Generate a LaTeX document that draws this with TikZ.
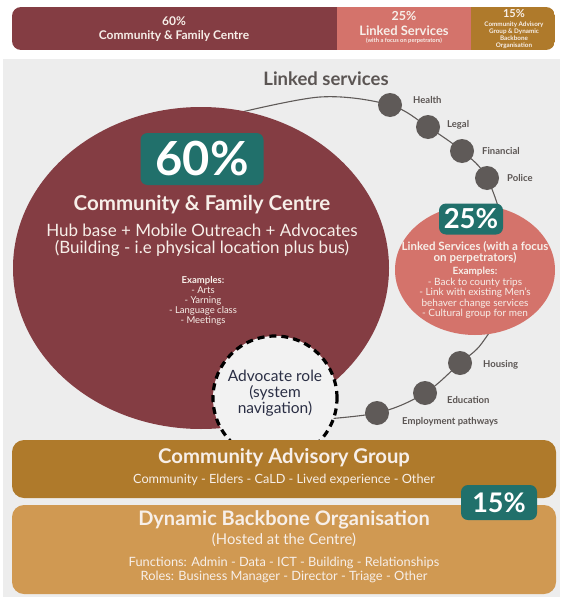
\documentclass[tikz,border=0pt]{standalone}
\usepackage{fontspec}
\setmainfont{Lato}
\usetikzlibrary{shapes.geometric}

\definecolor{cfcred}{HTML}{843D43}
\definecolor{lsred}{HTML}{D4736B}
\definecolor{caggold}{HTML}{AF7A2B}
\definecolor{dbotan}{HTML}{D09952}
\definecolor{pctteal}{HTML}{21706B}
\definecolor{panelgrey}{HTML}{EDEDED}
\definecolor{dotgrey}{HTML}{5F5A58}
\definecolor{titlegrey}{HTML}{5B5553}
\definecolor{navytext}{HTML}{2B2F45}
\definecolor{paletext}{HTML}{F7EFE9}

\newcommand{\fsz}[2]{\fontsize{#1}{#2}\selectfont}

\tikzset{
  pctbox/.style={fill=pctteal, text=white, rounded corners=7pt, inner sep=0pt, font=\bfseries},
  bubble/.style={ellipse, inner sep=0pt},
  dot/.style={circle, fill=dotgrey, minimum size=24pt, inner sep=0pt},
  svclabel/.style={anchor=west, text=titlegrey, inner sep=0pt, font=\bfseries\fsz{9.5}{11}},
  paletxt/.style={text=paletext, align=center, inner sep=0pt},
  band/.style={rounded corners=12pt, inner sep=0pt},
}

\begin{document}
\begin{tikzpicture}[x=1pt, y=-1pt]
  \useasboundingbox (0,0) rectangle (563,597);

  % Top bar
  \begin{scope}
    \clip[rounded corners=9pt] (12,7) rectangle (555,50);
    \fill[cfcred] (12,7) rectangle (337,50);
    \fill[lsred] (337,7) rectangle (471,50);
    \fill[caggold] (471,7) rectangle (555,50);
  \end{scope}
  \node[paletxt, font=\bfseries\fsz{12}{14}] (bar60) at (174,29) {60\%\\Community \& Family Centre};
  \node[paletxt, font=\bfseries\fsz{12.5}{15}] (bar25) at (404,23.5) {25\%\\{\fsz{13}{15}Linked Services}};
  \node[paletxt, font=\bfseries\fsz{5.8}{6}] (bar25sub) at (404,41) {(with a focus on perpetrators)};
  \node[paletxt, font=\bfseries\fsz{11}{12}] (bar15) at (514,14) {15\%};
  \node[paletxt, font=\bfseries\fsz{6.3}{7}] (bar15sub) at (514,35.5) {Community Advisory\\Group \& Dynamic\\Backbone\\Organisation};

  % Grey panel
  \fill[panelgrey] (3,59) rectangle (560,597);
  \node[text=titlegrey, font=\bfseries\fsz{18.5}{20}] (lstitle) at (326,79) {Linked services};

  % Linked services chain
  \coordinate (health) at (390,105);
  \coordinate (legal) at (428,127);
  \coordinate (financial) at (462,151);
  \coordinate (police) at (487,178);
  \coordinate (housing) at (460,363);
  \coordinate (education) at (425,393);
  \coordinate (employ) at (377,413);
  \draw[dotgrey, line width=1.1pt] plot[smooth, tension=0.55] coordinates {(225,116) (320,97) (health) (legal) (financial) (police) (505,235) (505,300) (482,343) (housing) (education) (employ) (300,421)};

  % Community & Family Centre
  \node[bubble, fill=cfcred, minimum width=376pt, minimum height=322pt] (cfc) at (201,268) {};
  \node[pctbox, minimum width=123pt, minimum height=52pt, font=\bfseries\fsz{47}{48}] (pct60) at (202,159) {60\%};
  \node[paletxt, font=\bfseries\fsz{20.5}{22}] (cfctitle) at (202,205) {Community \& Family Centre};
  \node[paletxt, font=\fsz{17}{17.5}] (cfcsub) at (202,240.5) {Hub base + Mobile Outreach + Advocates\\(Building - i.e physical location plus bus)};
  \node[paletxt, font=\fsz{9.5}{10}] (cfcex) at (203,301) {\textbf{Examples:}\\- Arts\\- Yarning\\- Language class\\- Meetings};

  % Linked Services bubble
  \node[bubble, fill=lsred, minimum width=160pt, minimum height=130pt] (ls) at (475,270) {};
  \node[pctbox, minimum width=64pt, minimum height=31pt, font=\bfseries\fsz{27.5}{29}] (pct25) at (471,219) {25\%};
  \node[paletxt, font=\bfseries\fsz{11.5}{11}] (lstext) at (475,252.5) {Linked Services (with a focus\\on perpetrators)};
  \node[paletxt, font=\fsz{10}{10.5}] (lsex) at (475,293) {\textbf{Examples:}\\- Back to county trips\\- Link with existing Men's\\behaver change services\\- Cultural group for men};

  % Advocate role
  \node[circle, fill=white!95!black, draw=black, line width=3.2pt, dash pattern=on 7pt off 5pt, minimum size=124pt, inner sep=0pt] (advocate) at (275,398) {};
  \node[text=navytext, align=center, inner sep=0pt, font=\fsz{15.5}{16}] (advtext) at (275,393) {Advocate role\\(system\\navigation)};

  % Service dots and labels
  \foreach \s in {health,legal,financial,police,housing,education,employ}
    \node[dot] (d\s) at (\s) {};
  \node[svclabel] (lhealth) at (413,100) {Health};
  \node[svclabel] (llegal) at (447,125) {Legal};
  \node[svclabel] (lfinancial) at (482,151) {Financial};
  \node[svclabel] (lpolice) at (507,178) {Police};
  \node[svclabel] (lhousing) at (483,365) {Housing};
  \node[svclabel] (leducation) at (447,400) {Education};
  \node[svclabel] (lemploy) at (402,422) {Employment pathways};

  % Community Advisory Group
  \fill[caggold, band] (12,440) rectangle (556,498);
  \node[paletxt, font=\bfseries\fsz{20.3}{22}] (cagtitle) at (284,458) {Community Advisory Group};
  \node[paletxt, font=\fsz{12.7}{14}] (cagsub) at (284,480) {Community - Elders - CaLD - Lived experience - Other};

  % Dynamic Backbone Organisation
  \fill[dbotan, band] (12,505) rectangle (556,594);
  \node[paletxt, font=\bfseries\fsz{20}{22}] (dbotitle) at (284,520) {Dynamic Backbone Organisation};
  \node[paletxt, font=\fsz{14.8}{16}] (dbohost) at (284,540) {(Hosted at the Centre)};
  \node[paletxt, font=\fsz{12.8}{14}] (dbofunc) at (284,570) {Functions: Admin - Data - ICT - Building - Relationships\\Roles: Business Manager - Director - Triage - Other};

  \node[pctbox, minimum width=76pt, minimum height=35pt, font=\bfseries\fsz{27}{29}] (pct15) at (499,502.5) {15\%};
\end{tikzpicture}
\end{document}
